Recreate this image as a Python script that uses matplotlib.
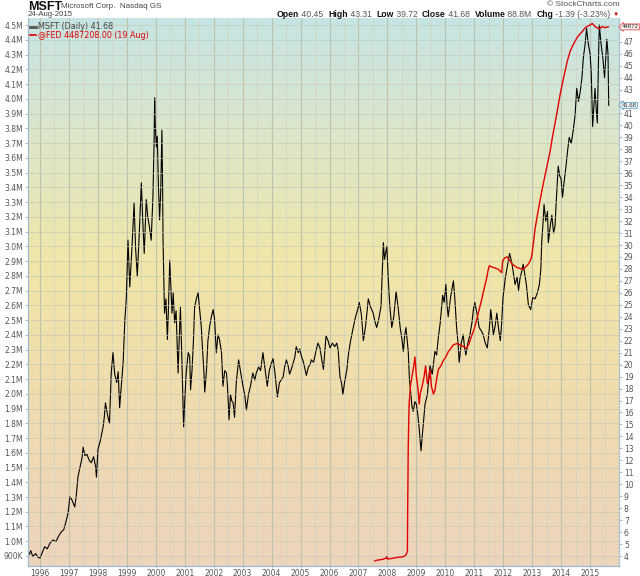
import matplotlib
matplotlib.use("Agg")
import matplotlib.pyplot as plt
import numpy as np
from matplotlib.lines import Line2D
from matplotlib.colors import LinearSegmentedColormap

# MSFT daily close (dividend adjusted): decimal year / price
msft_t = [1995.59, 1995.62, 1995.68, 1995.75, 1995.85, 1995.93, 1996.0, 1996.08, 1996.16, 1996.25,
          1996.35, 1996.45, 1996.55, 1996.65, 1996.74, 1996.82, 1996.91, 1996.97, 1997.03, 1997.1,
          1997.2, 1997.25, 1997.31, 1997.38, 1997.45, 1997.49, 1997.55, 1997.62, 1997.7, 1997.77,
          1997.85, 1997.92, 1997.95, 1998.0, 1998.08, 1998.18, 1998.22, 1998.26, 1998.33, 1998.4,
          1998.46, 1998.52, 1998.58, 1998.65, 1998.7, 1998.75, 1998.8, 1998.87, 1998.93, 1998.98,
          1999.04, 1999.1, 1999.17, 1999.25, 1999.3, 1999.36, 1999.42, 1999.5, 1999.55, 1999.6,
          1999.67, 1999.72, 1999.78, 1999.84, 1999.9, 1999.94, 1999.96, 1999.98, 2000.02, 2000.05,
          2000.09, 2000.13, 2000.17, 2000.21, 2000.23, 2000.25, 2000.3, 2000.35, 2000.4, 2000.44,
          2000.48, 2000.52, 2000.56, 2000.6, 2000.65, 2000.7, 2000.77, 2000.8, 2000.85, 2000.9,
          2000.96, 2001.0, 2001.05, 2001.12, 2001.17, 2001.2, 2001.25, 2001.3, 2001.34, 2001.4,
          2001.46, 2001.5, 2001.57, 2001.62, 2001.66, 2001.69, 2001.75, 2001.8, 2001.86, 2001.92,
          2001.98, 2002.03, 2002.09, 2002.15, 2002.2, 2002.27, 2002.32, 2002.38, 2002.44, 2002.48,
          2002.53, 2002.58, 2002.62, 2002.67, 2002.72, 2002.78, 2002.86, 2002.92, 2003.01, 2003.07,
          2003.13, 2003.2, 2003.27, 2003.35, 2003.42, 2003.47, 2003.55, 2003.62, 2003.7, 2003.78,
          2003.85, 2003.92, 2003.99, 2004.05, 2004.12, 2004.2, 2004.27, 2004.33, 2004.4, 2004.45,
          2004.51, 2004.58, 2004.62, 2004.68, 2004.75, 2004.8, 2004.85, 2004.92, 2004.97, 2005.03,
          2005.1, 2005.2, 2005.27, 2005.33, 2005.37, 2005.45, 2005.52, 2005.6, 2005.67, 2005.72,
          2005.79, 2005.88, 2005.95, 2006.02, 2006.1, 2006.18, 2006.25, 2006.3, 2006.36, 2006.42,
          2006.46, 2006.52, 2006.6, 2006.65, 2006.72, 2006.82, 2006.9, 2006.96, 2007.03, 2007.1,
          2007.17, 2007.25, 2007.34, 2007.42, 2007.51, 2007.57, 2007.63, 2007.7, 2007.78, 2007.82,
          2007.86, 2007.9, 2007.95, 2007.98, 2008.03, 2008.08, 2008.15, 2008.22, 2008.3, 2008.37,
          2008.44, 2008.5, 2008.55, 2008.6, 2008.64, 2008.72, 2008.76, 2008.8, 2008.85, 2008.89,
          2008.95, 2009.0, 2009.05, 2009.09, 2009.16, 2009.22, 2009.3, 2009.38, 2009.47, 2009.55,
          2009.64, 2009.7, 2009.76, 2009.82, 2009.91, 2009.96, 2010.02, 2010.06, 2010.1, 2010.18,
          2010.28, 2010.33, 2010.39, 2010.44, 2010.48, 2010.55, 2010.62, 2010.66, 2010.71, 2010.78,
          2010.85, 2010.92, 2010.97, 2011.02, 2011.1, 2011.17, 2011.25, 2011.31, 2011.38, 2011.45,
          2011.52, 2011.57, 2011.62, 2011.66, 2011.72, 2011.78, 2011.84, 2011.9, 2011.95, 2011.99,
          2012.07, 2012.15, 2012.22, 2012.3, 2012.36, 2012.41, 2012.48, 2012.53, 2012.58, 2012.64,
          2012.69, 2012.75, 2012.8, 2012.87, 2012.95, 2013.02, 2013.1, 2013.18, 2013.25, 2013.3,
          2013.33, 2013.38, 2013.41, 2013.47, 2013.53, 2013.56, 2013.62, 2013.68, 2013.74, 2013.79,
          2013.84, 2013.9, 2013.95, 2014.0, 2014.05, 2014.1, 2014.17, 2014.22, 2014.28, 2014.35,
          2014.42, 2014.48, 2014.54, 2014.6, 2014.66, 2014.72, 2014.77, 2014.83, 2014.88, 2014.94,
          2015.0, 2015.04, 2015.09, 2015.13, 2015.17, 2015.21, 2015.25, 2015.3, 2015.32, 2015.38,
          2015.44, 2015.5, 2015.54, 2015.58, 2015.62, 2015.645]
msft_p = [4.36, 4.1, 4.45, 3.95, 4.2, 3.9, 3.83, 4.3, 4.78, 4.6,
          5.1, 5.34, 5.2, 5.7, 6.03, 6.2, 7.0, 7.6, 8.96, 8.7,
          8.1, 9.0, 10.6, 11.4, 12.2, 13.1, 12.4, 12.5, 12.0, 11.8,
          12.3, 11.5, 10.6, 12.9, 13.6, 14.8, 15.6, 16.8, 15.8, 15.1,
          19.3, 21.0, 19.2, 18.5, 19.4, 16.4, 18.0, 20.1, 23.7, 25.5,
          30.4, 26.5, 29.5, 33.5, 29.8, 27.4, 30.5, 35.2, 32.0, 29.3,
          33.8, 32.4, 31.5, 30.4, 34.0, 38.5, 42.3, 40.0, 38.2, 39.1,
          35.0, 32.1, 34.5, 39.6, 36.0, 30.4, 24.3, 25.5, 22.1, 25.0,
          28.7, 26.5, 24.3, 26.0, 23.5, 24.5, 19.3, 21.5, 24.8, 20.5,
          14.8, 17.0, 19.3, 21.0, 20.7, 17.9, 19.5, 22.0, 24.8, 25.5,
          26.0, 25.0, 23.2, 21.0, 19.5, 17.7, 19.5, 22.0, 23.2, 24.0,
          24.6, 23.8, 21.0, 22.5, 22.1, 21.0, 18.2, 19.5, 19.3, 18.0,
          15.4, 17.5, 17.0, 16.8, 15.6, 18.5, 20.4, 19.5, 18.2, 17.5,
          16.2, 17.5, 18.2, 19.3, 18.7, 19.3, 19.8, 19.5, 21.0, 19.5,
          18.2, 19.5, 20.1, 20.5, 19.2, 17.3, 18.5, 18.7, 19.0, 19.8,
          20.4, 19.8, 19.2, 19.6, 20.2, 20.6, 21.5, 21.0, 21.3, 20.7,
          20.2, 19.1, 19.8, 20.0, 20.4, 20.2, 21.0, 21.8, 21.4, 20.6,
          19.6, 22.4, 22.0, 21.4, 21.8, 21.5, 21.8, 21.2, 19.0, 18.4,
          17.5, 18.5, 19.6, 20.8, 21.9, 23.1, 24.0, 24.5, 25.2, 24.2,
          22.0, 23.3, 25.5, 24.8, 24.3, 23.6, 23.1, 23.8, 24.9, 27.5,
          30.2, 28.8, 29.5, 29.9, 27.2, 25.0, 23.1, 24.0, 26.1, 24.8,
          23.1, 22.2, 21.1, 22.5, 23.1, 21.1, 18.8, 17.8, 16.5, 16.1,
          16.9, 16.7, 15.8, 14.9, 12.8, 14.5, 16.7, 17.5, 19.9, 19.2,
          21.1, 20.8, 22.3, 23.4, 25.8, 25.2, 26.7, 25.0, 24.0, 25.6,
          27.0, 25.5, 23.1, 21.8, 20.2, 21.8, 22.5, 21.5, 20.8, 21.8,
          22.5, 23.5, 24.6, 25.2, 24.2, 23.1, 22.8, 22.5, 21.8, 21.4,
          23.0, 24.6, 23.5, 22.5, 23.2, 24.3, 23.0, 22.0, 23.6, 25.5,
          27.2, 28.3, 29.3, 28.5, 27.5, 26.7, 27.3, 26.2, 27.2, 27.8,
          28.4, 27.5, 26.7, 25.0, 24.6, 25.6, 25.5, 26.0, 26.7, 28.0,
          30.2, 32.0, 33.4, 32.0, 32.8, 30.2, 31.5, 32.5, 31.0, 31.6,
          34.0, 36.6, 35.8, 35.5, 34.0, 35.2, 36.6, 37.8, 39.0, 38.5,
          39.6, 40.8, 43.1, 42.0, 42.8, 44.0, 45.7, 46.8, 48.1, 46.8,
          46.0, 44.5, 39.9, 41.5, 43.1, 41.5, 40.2, 46.5, 48.4, 46.8,
          45.7, 44.0, 45.5, 47.2, 46.0, 41.68]

# @FED - Federal Reserve total assets, in millions (left axis)
fed_t = [2007.57, 2007.65, 2007.75, 2007.85, 2007.95, 2007.98, 2008.0, 2008.1, 2008.2, 2008.32,
         2008.45, 2008.55, 2008.64, 2008.69, 2008.7, 2008.72, 2008.75, 2008.8, 2008.85, 2008.92,
         2008.95, 2009.0, 2009.05, 2009.1, 2009.13, 2009.2, 2009.27, 2009.32, 2009.38, 2009.43,
         2009.47, 2009.52, 2009.59, 2009.64, 2009.7, 2009.76, 2009.85, 2009.93, 2010.02, 2010.1,
         2010.2, 2010.28, 2010.4, 2010.51, 2010.62, 2010.74, 2010.82, 2010.91, 2011.0, 2011.08,
         2011.17, 2011.26, 2011.35, 2011.43, 2011.48, 2011.52, 2011.6, 2011.66, 2011.75, 2011.83,
         2011.95, 2011.97, 2011.99, 2012.05, 2012.13, 2012.2, 2012.3, 2012.38, 2012.47, 2012.58,
         2012.69, 2012.78, 2012.87, 2012.93, 2012.98, 2013.03, 2013.1, 2013.18, 2013.27, 2013.35,
         2013.44, 2013.53, 2013.62, 2013.7, 2013.79, 2013.88, 2013.96, 2014.05, 2014.14, 2014.22,
         2014.31, 2014.4, 2014.49, 2014.57, 2014.66, 2014.75, 2014.83, 2014.9, 2015.0, 2015.08,
         2015.17, 2015.25, 2015.34, 2015.42, 2015.5, 2015.63]
fed_v = [0.867, 0.872, 0.875, 0.878, 0.886, 0.895, 0.880, 0.882, 0.885, 0.890,
         0.893, 0.895, 0.907, 0.930, 1.20, 1.65, 1.93, 2.06, 2.12, 2.20,
         2.249, 2.12, 2.046, 1.93, 1.998, 2.05, 2.12, 2.189, 2.07, 2.10,
         2.165, 2.05, 1.998, 2.022, 2.10, 2.165, 2.19, 2.225, 2.25, 2.284,
         2.31, 2.332, 2.34, 2.332, 2.32, 2.308, 2.34, 2.392, 2.44, 2.499,
         2.57, 2.642, 2.72, 2.785, 2.84, 2.868, 2.86, 2.856, 2.85, 2.844,
         2.821, 2.88, 2.904, 2.92, 2.928, 2.91, 2.88, 2.87, 2.856, 2.85,
         2.844, 2.86, 2.88, 2.90, 2.928, 3.00, 3.118, 3.21, 3.309, 3.39,
         3.476, 3.56, 3.642, 3.74, 3.833, 3.93, 4.023, 4.11, 4.19, 4.26,
         4.321, 4.36, 4.393, 4.42, 4.44, 4.46, 4.481, 4.49, 4.50, 4.51,
         4.49, 4.48, 4.476, 4.49, 4.482, 4.487]

years = list(range(1996, 2016))
fed_ticks = [round(0.9 + 0.1 * i, 1) for i in range(37)]
msft_ticks = list(range(4, 49))
# labels 42 and 48 sit under the value tags on the chart
msft_hidden = [42, 48]

W, H = 640, 576
fig = plt.figure(figsize=(W / 100, H / 100), dpi=100)
fig.patch.set_facecolor('white')

# plot box in pixels: left 28, right 619, top 18, bottom 566
ax = fig.add_axes([28 / W, (H - 566) / H, (619 - 28) / W, (566 - 18) / H])
ax_fed = ax.twinx()

xmin, xmax = 1995.585, 2016.0
ax.set_xlim(xmin, xmax)
ax.set_ylim(3.164, 48.98)
ax_fed.set_ylim(0.8322, 4.5475)

# background gradient: teal top -> yellow middle -> peach bottom
cmap = LinearSegmentedColormap.from_list('bg', [(0.0, '#edd4bd'), (0.3, '#efdcae'),
                                                (0.55, '#f1e6a8'), (0.8, '#dbe6cc'),
                                                (1.0, '#c6e4e4')])
grad = np.linspace(0, 1, 256).reshape(-1, 1)
ax.imshow(grad, extent=[xmin, xmax, 3.164, 48.98], origin='lower', aspect='auto',
          cmap=cmap, zorder=0, interpolation='bicubic')

# vertical grid: stronger at each year, light at mid year
for y in years:
    ax.axvline(y, color='#bcc2ad', lw=0.8, zorder=1)
    ax.axvline(y + 0.5, color='#d2d6c4', lw=0.6, zorder=1)

# MSFT line on the right axis
ax.plot(msft_t, msft_p, color='black', lw=0.8, zorder=3)

# horizontal grid from the left axis ticks
for v in fed_ticks:
    ax_fed.axhline(v, color='#c4c9b4', lw=0.6, alpha=0.75, zorder=0)
ax_fed.plot(fed_t, fed_v, color='#e00000', lw=1.0, zorder=4)

# axes styling
ax.yaxis.tick_right()
ax_fed.yaxis.tick_left()
ax.set_yticks(msft_ticks)
ax.set_yticklabels(['' if v in msft_hidden else str(v) for v in msft_ticks])
ax_fed.set_yticks(fed_ticks)
ax_fed.set_yticklabels(['900K' if v < 1 else '%.1fM' % v for v in fed_ticks])
ax.set_xticks(years)
ax.set_xticklabels([str(y) for y in years])

tick_font = dict(labelsize=5.5, labelcolor='#555555', length=2, width=0.5, color='#8aa0b0', pad=1.5)
ax.tick_params(axis='y', which='both', direction='out', **tick_font)
ax_fed.tick_params(axis='y', direction='out', **tick_font)
ax.tick_params(axis='x', direction='out', labelsize=5.5, labelcolor='#555555',
               length=1.5, width=0.5, color='#8aa0b0', pad=0.3)

for a in (ax, ax_fed):
    a.spines['top'].set_visible(False)
    a.spines['left'].set_color('#9fb8cc')
    a.spines['bottom'].set_color('#9fb8cc')
    a.spines['right'].set_color('#9fb8cc')
    a.spines['right'].set_linestyle(':')
    for s in a.spines.values():
        s.set_linewidth(0.8)

# legend inside top left
handles = [Line2D([], [], color='#555555', lw=2), Line2D([], [], color='#e00000', lw=1.2)]
leg = ax_fed.legend(handles, ['MSFT (Daily) 41.68', '@FED 4487208.00 (19 Aug)'],
                    loc='upper left', bbox_to_anchor=(-0.004, 1.0), frameon=False,
                    fontsize=5.8, handlelength=0.7, handletextpad=0.3, labelspacing=-0.05,
                    borderaxespad=0.15, labelcolor=['#444444', '#e00000'])
leg.set_zorder(10)

# value tags on the right axis
tag_font = ['Liberation Sans', 'DejaVu Sans']
ax.text(1.005, (41.68 - 3.164) / (48.98 - 3.164), '41.68', transform=ax.transAxes,
        fontsize=4.3, color='#333333', va='center', ha='left', zorder=10, clip_on=False,
        family=tag_font,
        bbox=dict(boxstyle='larrow,pad=0.08', fc='#eef6fb', ec='#5a9ec0', lw=0.6))
ax_fed.text(1.005, (4.487208 - 0.8322) / (4.5475 - 0.8322), '44872', transform=ax_fed.transAxes,
            fontsize=4.3, color='#333333', va='center', ha='left', zorder=10, clip_on=False,
            family=tag_font,
            bbox=dict(boxstyle='larrow,pad=0.08', fc='#fdf0f0', ec='#e05050', lw=0.6))

# header
hdr_font = ['Liberation Sans', 'DejaVu Sans']
fig.text(28 / W, 1 - 7 / H, 'MSFT', fontsize=9, fontweight='bold', color='#111111',
         va='center', ha='left', family=hdr_font)
fig.text(61 / W, 1 - 7 / H, 'Microsoft Corp.  Nasdaq GS', fontsize=5.8, color='#444444',
         va='center', ha='left', family=hdr_font)
fig.text(28 / W, 1 - 15 / H, '24-Aug-2015', fontsize=5.6, color='#444444',
         va='center', ha='left', family=hdr_font)
fig.text(620 / W, 1 - 5 / H, '\u00a9 StockCharts.com', fontsize=6, color='#555555',
         va='center', ha='right', family=hdr_font)

pieces = [('Open', True, '#111111'), (' 40.45  ', False, '#555555'),
          ('High', True, '#111111'), (' 43.31  ', False, '#555555'),
          ('Low', True, '#111111'), (' 39.72  ', False, '#555555'),
          ('Close', True, '#111111'), (' 41.68  ', False, '#555555'),
          ('Volume', True, '#111111'), (' 88.8M  ', False, '#555555'),
          ('Chg', True, '#111111'), (' -1.39 (-3.23%) ', False, '#555555'),
          ('\u25bc', False, '#cc0000')]
renderer = fig.canvas.get_renderer()
objs = []
for s, bold, col in pieces:
    t = fig.text(0, 1 - 14.5 / H, s, fontsize=6.2, fontweight='bold' if bold else 'normal',
                 color=col, va='center', ha='left', family=hdr_font)
    if s == '\u25bc':
        t.set_fontsize(4.5)
    objs.append(t)
widths = [o.get_window_extent(renderer).width for o in objs]
x = 619 - sum(widths)
for o, w in zip(objs, widths):
    o.set_x(x / W)
    x += w

fig.savefig('out.png', dpi=100)
